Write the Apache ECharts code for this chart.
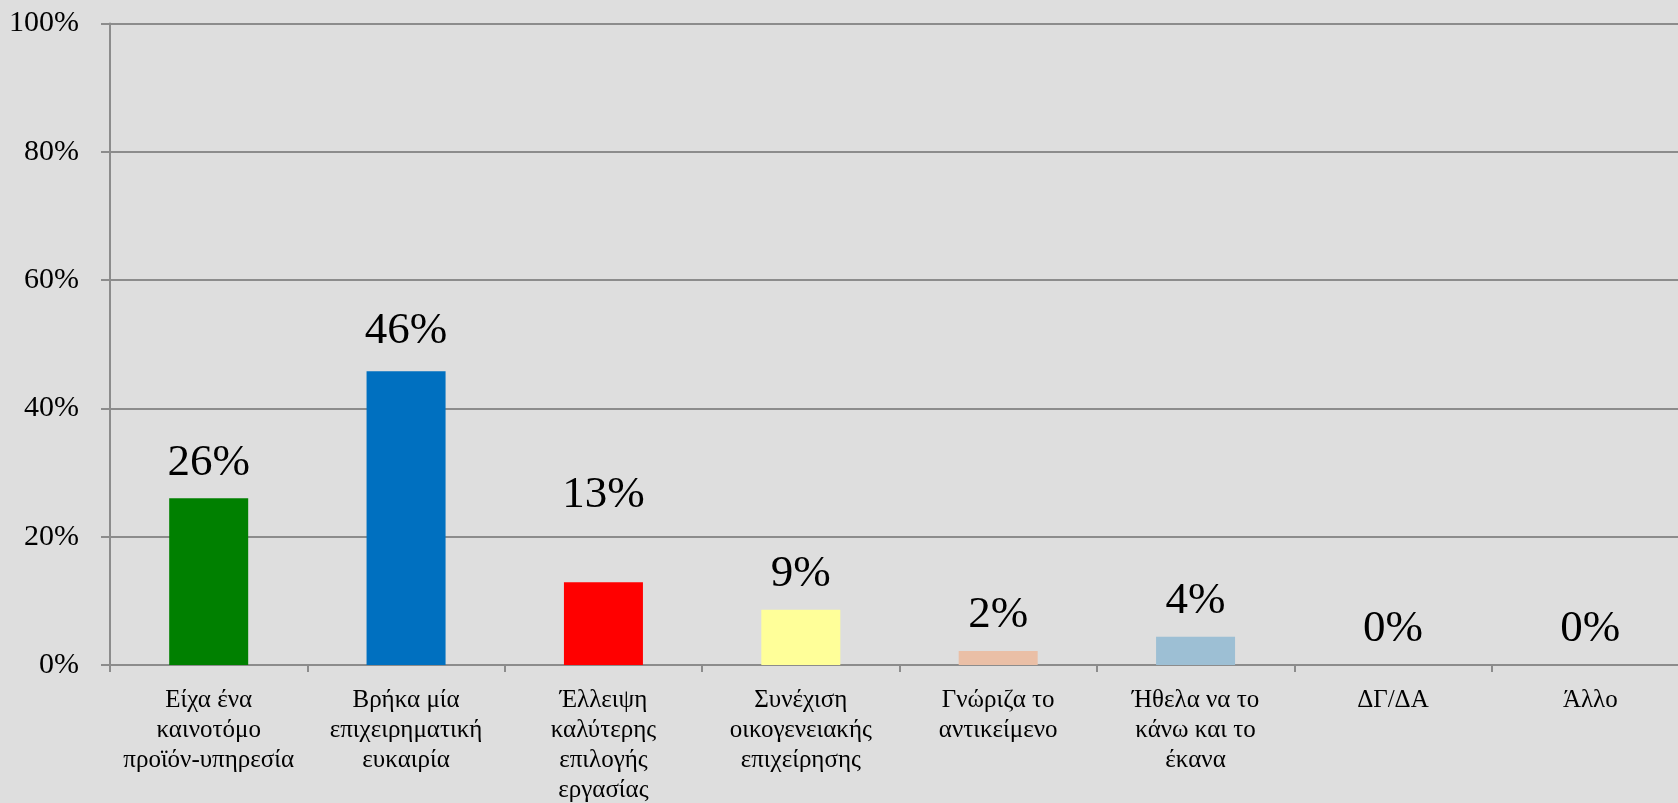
<!DOCTYPE html>
<html>
<head>
<meta charset="utf-8">
<script src="https://cdn.jsdelivr.net/npm/echarts@6/dist/echarts.min.js"></script>
<style>
html,body{margin:0;padding:0;background:#dedede;}
#chart{width:1678px;height:803px;}
</style>
</head>
<body>
<div id="chart"></div>
<script>
const categories = [
  "Είχα ένα\nκαινοτόμο\nπροϊόν-υπηρεσία",
  "Βρήκα μία\nεπιχειρηματική\nευκαιρία",
  "Έλλειψη\nκαλύτερης\nεπιλογής\nεργασίας",
  "Συνέχιση\nοικογενειακής\nεπιχείρησης",
  "Γνώριζα το\nαντικείμενο",
  "Ήθελα να το\nκάνω και το\nέκανα",
  "ΔΓ/ΔΑ",
  "Άλλο"
];
const values = [26.0, 45.8, 12.9, 8.6, 2.2, 4.4, 0, 0];
const barColors = ["#008000", "#0070c0", "#ff0000", "#ffff99", "#eabfa6", "#9dbfd4", "#9dbfd4", "#9dbfd4"];
const labelNudges = [0, -5, -52, 0, 0, 0, 0, 0];
const yTicks = [0, 20, 40, 60, 80, 100];

const chart = echarts.init(document.getElementById('chart'));
const font = '"Liberation Serif", "Times New Roman", "DejaVu Serif", serif';
chart.setOption({
  backgroundColor: '#dedede',
  animation: false,
  grid: { left: 110, right: -11, top: 23.5, bottom: 138, containLabel: false, outerBoundsMode: 'none' },
  xAxis: {
    type: 'category',
    data: categories,
    axisLine: { lineStyle: { color: '#8c8c8c', width: 2 } },
    axisTick: { show: true, length: 7, interval: 0, lineStyle: { color: '#8c8c8c', width: 2 } },
    axisLabel: { interval: 0, color: '#000', fontFamily: font, fontSize: 25, lineHeight: 30, margin: 20 }
  },
  yAxis: {
    type: 'value',
    min: 0, max: 100, interval: 20,
    axisLine: { show: true, lineStyle: { color: '#8c8c8c', width: 2 } },
    axisTick: { show: true, length: 9, lineStyle: { color: '#8c8c8c', width: 2 } },
    splitLine: { lineStyle: { color: '#8c8c8c', width: 2 } },
    axisLabel: { color: '#000', fontFamily: font, fontSize: 30, margin: 31,
      formatter: v => (yTicks.includes(v) ? v + '%' : '') }
  },
  series: [{
    type: 'bar',
    barWidth: 79,
    data: values.map((v, i) => ({
      value: v,
      itemStyle: { color: barColors[i] },
      label: { offset: [0, labelNudges[i]] }
    })),
    label: {
      show: true, position: 'top', distance: 13,
      color: '#000', fontFamily: font, fontSize: 45,
      formatter: p => Math.round(p.value) + '%'
    }
  }]
});
</script>
</body>
</html>
